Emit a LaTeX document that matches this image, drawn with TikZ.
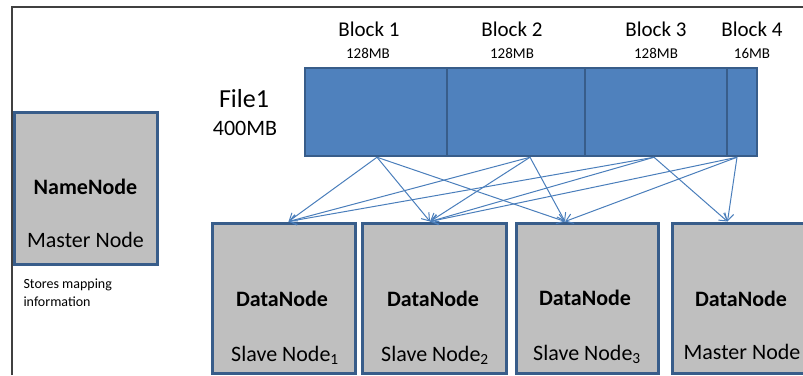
\documentclass[tikz,border=0pt]{standalone}
\usepackage{fontspec}
\setmainfont{Carlito}
\usetikzlibrary{arrows.meta}
\definecolor{barblue}{HTML}{4F81BD}
\definecolor{edgeblue}{HTML}{385D8A}
\definecolor{boxgray}{HTML}{BFBFBF}
\definecolor{arrblue}{HTML}{4A7EBB}
\definecolor{framegray}{HTML}{404040}

\begin{document}
\begin{tikzpicture}[x=1pt,y=-1pt,
	blk/.style={draw=edgeblue,fill=barblue,line width=2.5pt,inner sep=0pt,minimum height=88pt},
	srv/.style={draw=edgeblue,fill=boxgray,line width=3pt,inner sep=0pt,minimum width=143pt,minimum height=150pt},
	cp/.style={-{Straight Barb[length=7pt,width=10pt]},arrblue,line width=1pt},
	big/.style={font=\fontsize{21}{25}\selectfont},
	small/.style={font=\fontsize{15}{18}\selectfont}]
	\useasboundingbox (0,0) rectangle (803,375);
	\clip (0,0) rectangle (803,375);
	% frame
	\draw[framegray,line width=1.5pt] (12,375) -- (12,7) -- (803,7);
	% file and its blocks
	\node[font=\fontsize{26}{30}\selectfont] (file) at (244,99){File1};
	\node[font=\fontsize{22}{26}\selectfont] (size) at (245,128){400MB};
	\node[blk,minimum width=142pt] (blk1) at (376,112){};
	\node[blk,minimum width=138pt] (blk2) at (516,112){};
	\node[blk,minimum width=142pt] (blk3) at (656,112){};
	\node[blk,minimum width=30pt] (blk4) at (742,112){};
	\node[big] (lbl1) at (369,29){Block 1};
	\node[big] (lbl2) at (512,29){Block 2};
	\node[big] (lbl3) at (656,29){Block 3};
	\node[big] (lbl4) at (752,29){Block 4};
	\node[small] (sz1) at (368,53){128MB};
	\node[small] (sz2) at (512,53){128MB};
	\node[small] (sz3) at (656,53){128MB};
	\node[small] (sz4) at (752,53){16MB};
	% name node
	\node[srv,minimum height=152pt] (nn) at (85.5,188){};
	\node[font=\fontsize{22}{26}\selectfont\bfseries] (nnt) at (85.5,187){NameNode};
	\node[font=\fontsize{22}{26}\selectfont] (nnr) at (85.5,240){Master Node};
	\node[font=\fontsize{14}{18}\selectfont,align=left,anchor=west] (map) at (20,293){Stores mapping\\information};
	% data nodes
	\node[srv] (dn1) at (283.5,298){};
	\node[srv,minimum width=144pt] (dn2) at (434,298){};
	\node[srv,minimum width=142pt] (dn3) at (587,298){};
	\node[srv] (dn4) at (743.5,298){};
	\node[font=\fontsize{22}{26}\selectfont\bfseries] (d1t) at (282,299){DataNode};
	\node[font=\fontsize{22}{26}\selectfont\bfseries] (d2t) at (433,299){DataNode};
	\node[font=\fontsize{22}{26}\selectfont\bfseries] (d3t) at (585,298){DataNode};
	\node[font=\fontsize{22}{26}\selectfont\bfseries] (d4t) at (741,299){DataNode};
	\node[font=\fontsize{22}{26}\selectfont] (d1r) at (285,355){Slave Node\textsubscript{1}};
	\node[font=\fontsize{22}{26}\selectfont] (d2r) at (435,355){Slave Node\textsubscript{2}};
	\node[font=\fontsize{22}{26}\selectfont] (d3r) at (587,354){Slave Node\textsubscript{3}};
	\node[font=\fontsize{22}{26}\selectfont] (d4r) at (742,352){Master Node};
	% block copies
	\draw[cp] ([xshift=1pt]blk1.south) -- ([xshift=5pt]dn1.north);
	\draw[cp] ([xshift=1pt]blk1.south) -- ([xshift=-4pt]dn2.north);
	\draw[cp] ([xshift=1pt]blk1.south) -- ([xshift=-22pt]dn3.north);
	\draw[cp] ([xshift=14pt]blk2.south) -- ([xshift=5pt]dn1.north);
	\draw[cp] ([xshift=14pt]blk2.south) -- ([xshift=-4pt]dn2.north);
	\draw[cp] ([xshift=14pt]blk2.south) -- ([xshift=-22pt]dn3.north);
	\draw[cp] ([xshift=-2pt]blk3.south) -- ([xshift=5pt]dn1.north);
	\draw[cp] ([xshift=-2pt]blk3.south) -- ([xshift=-4pt]dn2.north);
	\draw[cp] ([xshift=-2pt]blk3.south) -- ([xshift=-16pt]dn4.north);
	\draw[cp] ([xshift=-5pt]blk4.south) -- ([xshift=-4pt]dn2.north);
	\draw[cp] ([xshift=-5pt]blk4.south) -- ([xshift=-22pt]dn3.north);
	\draw[cp] ([xshift=-5pt]blk4.south) -- ([xshift=-16pt]dn4.north);
\end{tikzpicture}
\end{document}
